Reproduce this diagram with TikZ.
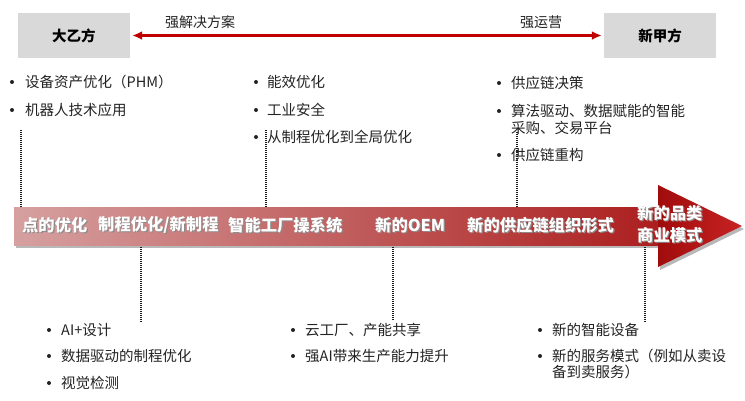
\documentclass[tikz,border=0pt]{standalone}
\usepackage{fontspec}
\setmainfont{Noto Sans CJK SC}
\usetikzlibrary{arrows.meta,calc}
\definecolor{boxgray}{RGB}{217,217,217}
\definecolor{arrred}{RGB}{192,0,0}
\definecolor{txt}{RGB}{35,35,35}
\definecolor{barL}{RGB}{214,160,160}
\definecolor{barM}{RGB}{200,112,112}
\definecolor{barR}{RGB}{172,30,30}
\definecolor{headL}{RGB}{160,12,12}
\definecolor{headR}{RGB}{200,35,35}
\newcommand{\barlab}[4]{%
  \node[barshadow] (#1s) at ($(#2,#3)+(1.2,1.2)$) {#4};
  \node[bartext] (#1) at (#2,#3) {#4};}
\tikzset{
  partybox/.style={fill=boxgray, minimum width=112pt, minimum height=45pt, inner sep=0pt, font=\fontsize{14.5}{17}\selectfont\bfseries, text=black},
  toplabel/.style={font=\fontsize{14}{17}\selectfont, text=txt, inner sep=0pt},
  item/.style={anchor=west, inner sep=0pt, font=\fontsize{14.5}{17}\selectfont, text=txt},
  bartext/.style={anchor=west, inner sep=0pt, font=\fontsize{16.3}{18}\selectfont\bfseries, text=white},
  barshadow/.style={anchor=west, inner sep=0pt, font=\fontsize{16.3}{18}\selectfont\bfseries, text=black!45},
  dotline/.style={draw=black!90, line width=1.4pt, dash pattern=on 1pt off 1pt},
  bul/.style={fill=txt},
}
\begin{document}
\begin{tikzpicture}[x=1pt,y=-1pt]
\useasboundingbox (0,0) rectangle (745,400);
\fill[white] (0,0) rectangle (745,400);

% party boxes
\node[partybox] (yi) at (74,35.5) {大乙方};
\node[partybox] (jia) at (660,35.5) {新甲方};
\draw[arrred, line width=2.4pt, {Latex[length=10pt,width=9pt]}-{Latex[length=10pt,width=9pt]}] (yi.east) ++(2,0) coordinate (ya) -- ($(jia.west)+(-2,0)$) coordinate (ja);
\node[toplabel] (l1) at (200,22) {强解决方案};
\node[toplabel] (l2) at (541,22) {强运营};

% top bullets
\fill[bul] (12,82) circle (2pt);
\node[item] (t11) at (25,82) {设备资产优化（PHM）};
\fill[bul] (12,110) circle (2pt);
\node[item] (t12) at (25,110) {机器人技术应用};

\fill[bul] (256,82) circle (2pt);
\node[item] (t21) at (267,82) {能效优化};
\fill[bul] (256,110) circle (2pt);
\node[item] (t22) at (267,110) {工业安全};
\fill[bul] (256,137) circle (2pt);
\node[item] (t23) at (267,137) {从制程优化到全局优化};

\fill[bul] (499,83) circle (2pt);
\node[item] (t31) at (511,83) {供应链决策};
\fill[bul] (499,111) circle (2pt);
\node[item] (t32) at (511,111) {算法驱动、数据赋能的智能};
\node[item] (t32b) at (511,128) {采购、交易平台};
\fill[bul] (499,155) circle (2pt);
\node[item] (t33) at (511,155) {供应链重构};

% top dotted lines
\coordinate (u1a) at (21,130); \coordinate (u1b) at (21,207);
\coordinate (u2a) at (266,130); \coordinate (u2b) at (266,207);
\coordinate (u3a) at (517,132); \coordinate (u3b) at (517,207);
\draw[dotline] (u1a) -- (u1b);
\draw[dotline] (u2a) -- (u2b);
\draw[dotline] (u3a) -- (u3b);

% main arrow bar
\fill[black!28] (16,209) rectangle (662,248);
\fill[black!28] (660,188) -- (744,229) -- (660,270) -- cycle;
\shade[left color=barL, middle color=barM, right color=barR] (14,207) rectangle (660,245);
\shade[left color=headL, right color=headR] (658,185) -- (742,226) -- (658,267) -- cycle;

\barlab{b1}{22}{225}{点的优化}
\barlab{b2}{98}{225}{制程优化/新制程}
\barlab{b3}{228}{225}{智能工厂操系统}
\barlab{b4}{375}{225}{新的OEM}
\barlab{b5}{467}{225}{新的供应链组织形式}
\barlab{b6}{637}{213}{新的品类}
\barlab{b7}{637}{235}{商业模式}

% bottom dotted lines
\coordinate (v1a) at (141,247); \coordinate (v1b) at (141,322);
\coordinate (v2a) at (393,247); \coordinate (v2b) at (393,321);
\coordinate (v3a) at (645,247); \coordinate (v3b) at (645,323);
\draw[dotline] (v1a) -- (v1b);
\draw[dotline] (v2a) -- (v2b);
\draw[dotline] (v3a) -- (v3b);

% bottom bullets
\fill[bul] (49,330) circle (2pt);
\node[item] (s11) at (61,330) {AI+设计};
\fill[bul] (49,356) circle (2pt);
\node[item] (s12) at (61,356) {数据驱动的制程优化};
\fill[bul] (49,383) circle (2pt);
\node[item] (s13) at (61,383) {视觉检测};

\fill[bul] (293,330) circle (2pt);
\node[item] (s21) at (305,330) {云工厂、产能共享};
\fill[bul] (293,356) circle (2pt);
\node[item] (s22) at (305,356) {强AI带来生产能力提升};

\fill[bul] (540,330) circle (2pt);
\node[item] (s31) at (552,330) {新的智能设备};
\fill[bul] (540,356) circle (2pt);
\node[item] (s32) at (552,356) {新的服务模式（例如从卖设};
\node[item] (s32b) at (552,372) {备到卖服务）};
\end{tikzpicture}
\end{document}
